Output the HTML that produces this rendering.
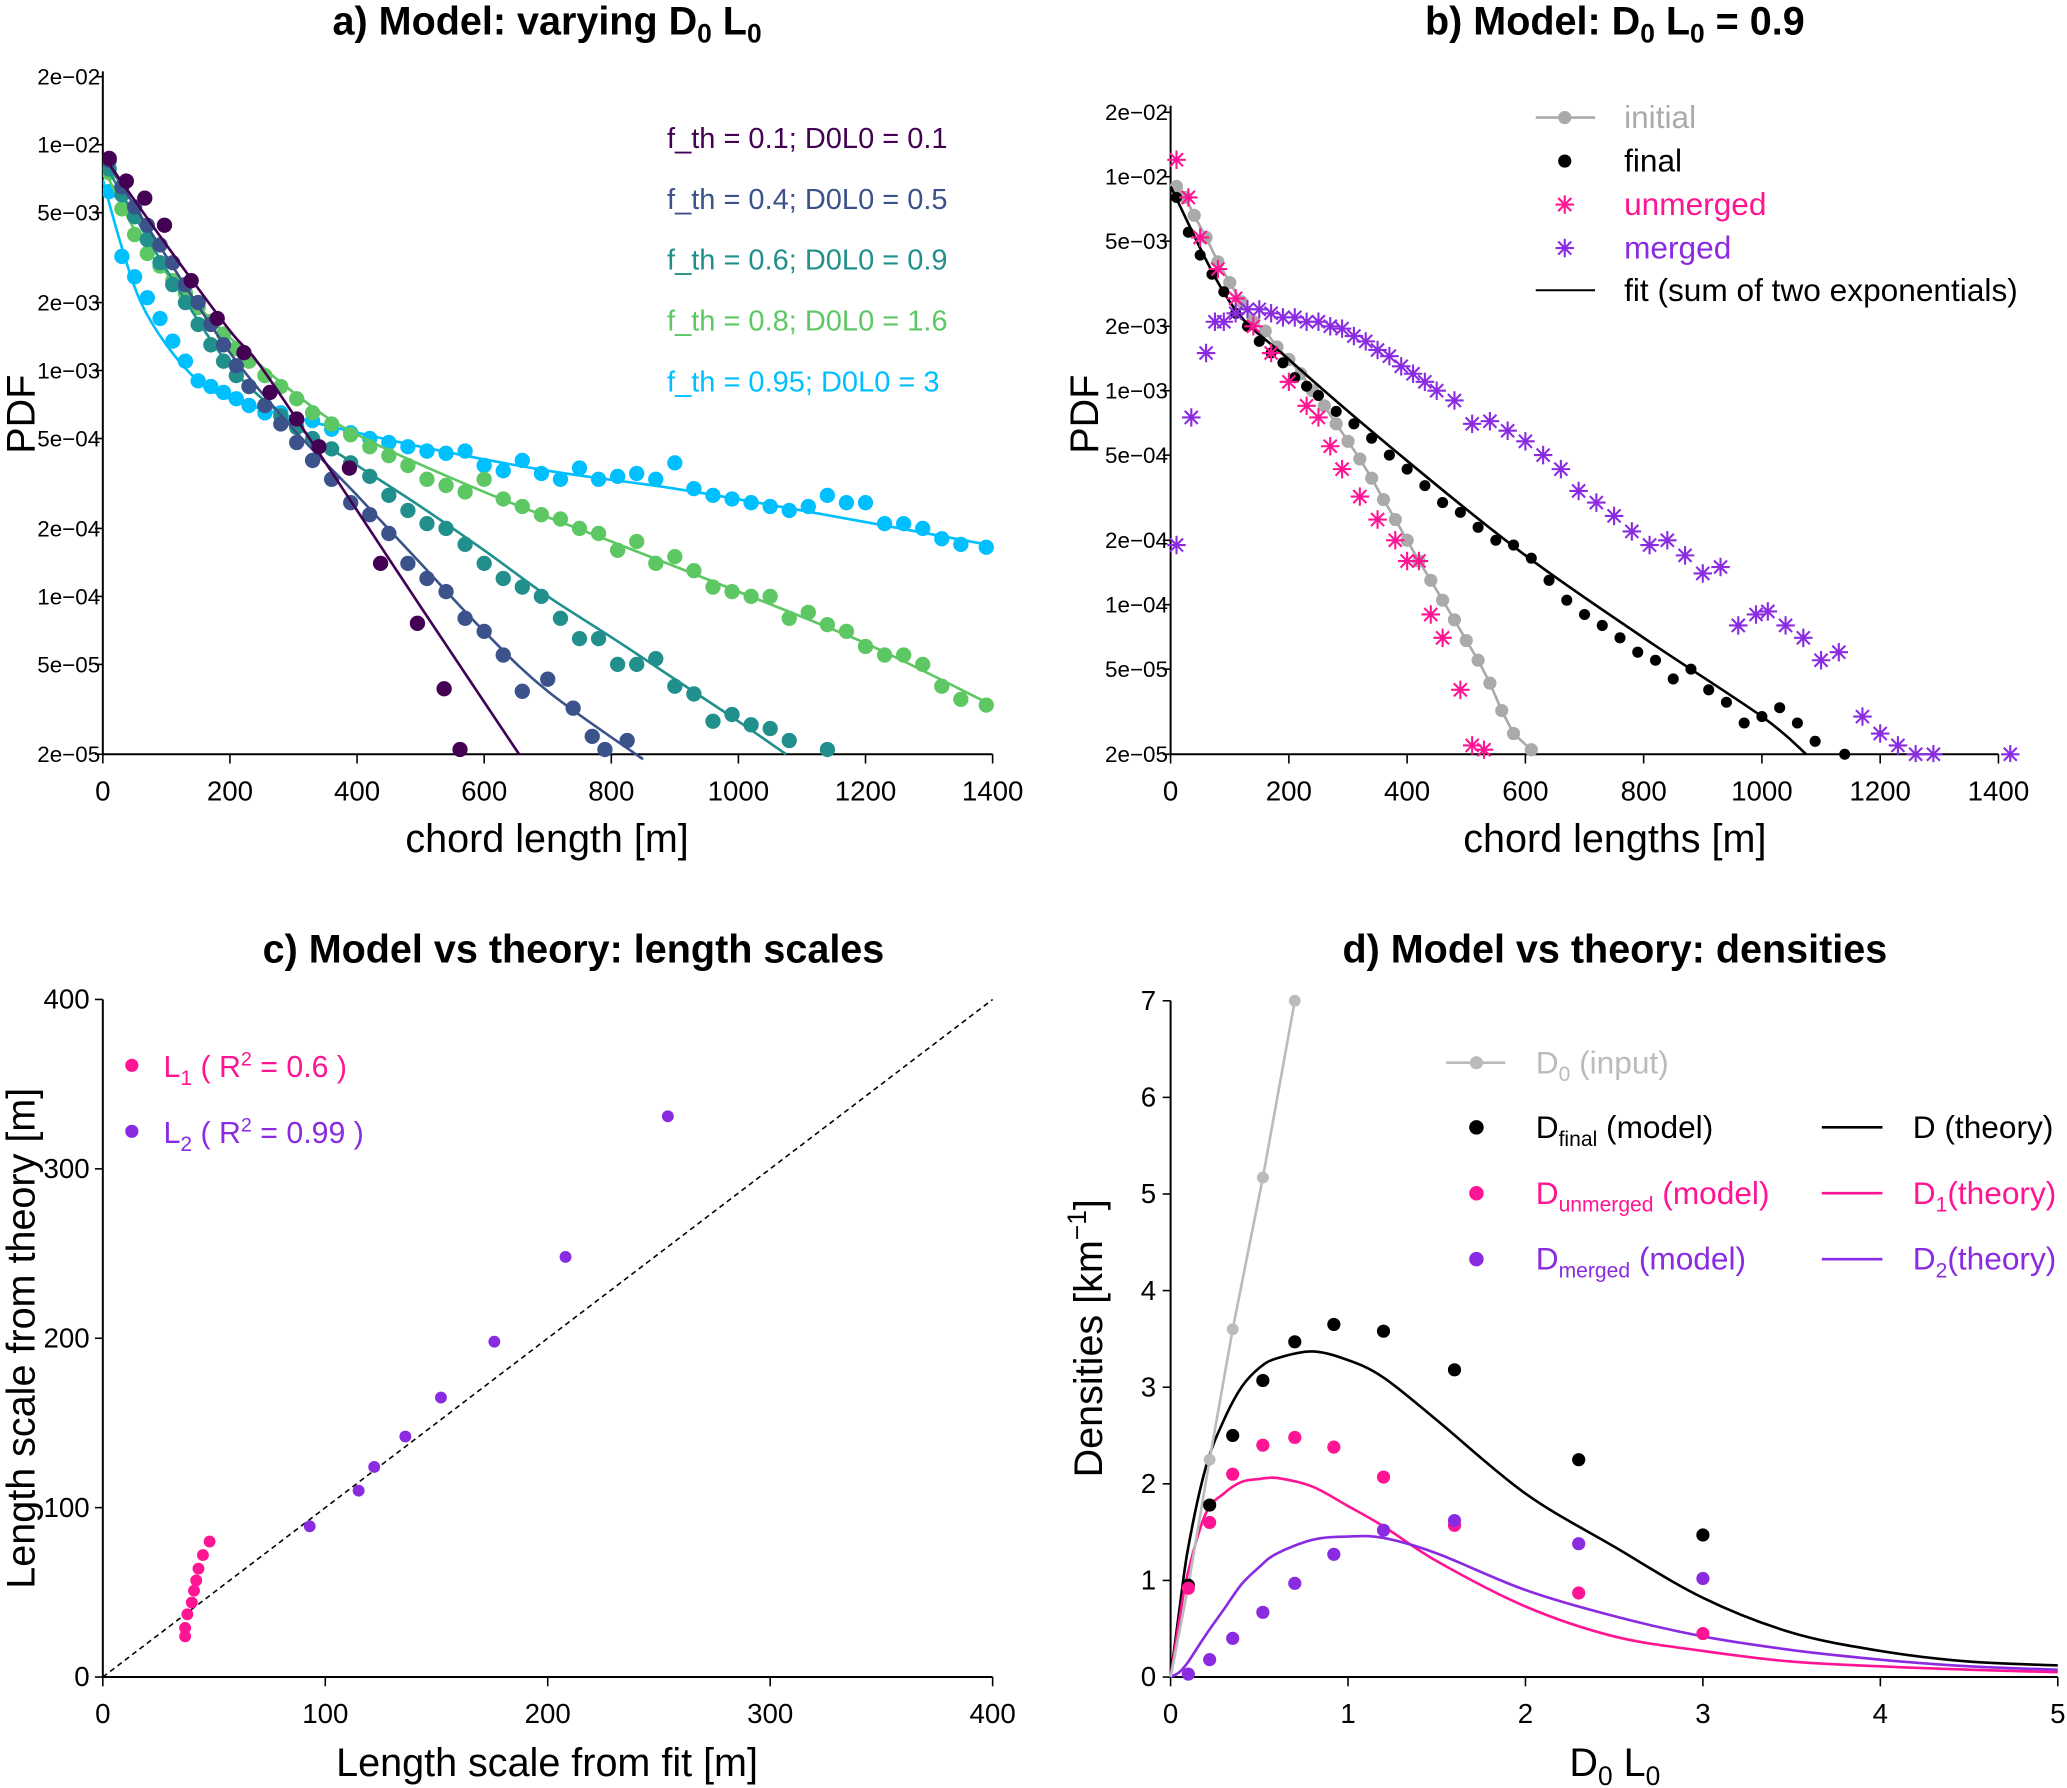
<!DOCTYPE html>
<html><head><meta charset="utf-8"><style>
html,body{margin:0;padding:0;background:#fff}
svg{display:block;font-family:"Liberation Sans",sans-serif}
</style></head><body>
<svg id="fig" width="2067" height="1788" viewBox="0 0 1568 1356" xmlns="http://www.w3.org/2000/svg"></svg>
<script>
// ---------- Panel a data ----------
const aX1=[10,37,66,97,139,180,222,263,305,340,388,437,495,537,562];
const aV1=[8.7e-3,6.9e-3,5.8e-3,4.4e-3,2.5e-3,1.7e-3,1.2e-3,8e-4,6.1e-4,4.6e-4,3.7e-4,1.4e-4,7.6e-5,3.9e-5,2.1e-5];
const aFx1=[0,100,200,253,400,500,655];
const aFv1=[9e-3,3.6e-3,1.5e-3,1e-3,2.4e-4,9e-5,2e-5];
const aX2=[10,30,50,70,90,110,130,150,170,190,210,230,255,280,305,330,360,390,420,450,480,510,540,570,600,630,660,700,740,770,790,825];
const aV2=[8.5e-3,6.5e-3,5.3e-3,4.4e-3,3.6e-3,3e-3,2.4e-3,2e-3,1.6e-3,1.3e-3,1.05e-3,8.5e-4,7e-4,5.8e-4,4.8e-4,4e-4,3.3e-4,2.6e-4,2.3e-4,1.9e-4,1.4e-4,1.2e-4,1.05e-4,8e-5,7e-5,5.5e-5,3.8e-5,4.3e-5,3.2e-5,2.4e-5,2.1e-5,2.3e-5];
const aFx2=[0,100,200,300,400,500,600,700,850];
const aFv2=[9e-3,3.2e-3,1.2e-3,5.5e-4,2.8e-4,1.4e-4,7e-5,3.8e-5,1.9e-5];
const aX3=[10,30,50,70,90,110,130,150,170,190,210,230,255,280,305,330,360,390,420,450,480,510,540,570,600,630,660,690,720,750,780,810,840,870,900,930,960,990,1020,1050,1080,1140];
const aV3=[7.8e-3,6e-3,4.8e-3,3.8e-3,3e-3,2.4e-3,2e-3,1.6e-3,1.3e-3,1.1e-3,9.5e-4,8.5e-4,7e-4,6.3e-4,5.6e-4,5e-4,4.5e-4,3.9e-4,3.4e-4,2.8e-4,2.4e-4,2.1e-4,2e-4,1.7e-4,1.4e-4,1.2e-4,1.1e-4,1e-4,8e-5,6.5e-5,6.5e-5,5e-5,5e-5,5.3e-5,4e-5,3.7e-5,2.8e-5,3e-5,2.7e-5,2.6e-5,2.3e-5,2.1e-5];
const aFx3=[0,100,200,300,400,500,600,700,800,900,1000,1075];
const aFv3=[8.5e-3,2.8e-3,1.05e-3,5.8e-4,3.8e-4,2.5e-4,1.6e-4,1e-4,6.6e-5,4.3e-5,2.8e-5,2e-5];
const aX4=[10,30,50,70,90,110,130,150,170,190,210,230,255,280,305,330,360,390,420,450,480,510,540,570,600,630,660,690,720,750,780,810,840,870,900,930,960,990,1020,1050,1080,1110,1140,1170,1200,1230,1260,1290,1320,1350,1390];
const aV4=[7.5e-3,5.2e-3,4e-3,3.3e-3,2.9e-3,2.5e-3,2.2e-3,1.9e-3,1.65e-3,1.45e-3,1.25e-3,1.1e-3,9.5e-4,8.5e-4,7.5e-4,6.5e-4,5.8e-4,5.2e-4,4.6e-4,4.2e-4,3.8e-4,3.3e-4,3.1e-4,2.9e-4,3.3e-4,2.7e-4,2.5e-4,2.3e-4,2.2e-4,2e-4,1.9e-4,1.6e-4,1.75e-4,1.4e-4,1.5e-4,1.3e-4,1.1e-4,1.05e-4,1e-4,1e-4,8e-5,8.5e-5,7.5e-5,7e-5,6e-5,5.5e-5,5.5e-5,5e-5,4e-5,3.5e-5,3.3e-5];
const aFx4=[0,50,100,200,300,400,600,800,1000,1200,1390];
const aFv4=[8e-3,4.2e-3,2.7e-3,1.4e-3,8e-4,5.2e-4,2.9e-4,1.75e-4,1.05e-4,6.2e-5,3.4e-5];
const aX5=aX4;
const aV5=[6.2e-3,3.2e-3,2.6e-3,2.1e-3,1.7e-3,1.35e-3,1.1e-3,9e-4,8.5e-4,8e-4,7.5e-4,7e-4,6.5e-4,6.5e-4,6e-4,6e-4,5.5e-4,5.3e-4,5e-4,4.8e-4,4.6e-4,4.4e-4,4.3e-4,4.4e-4,3.8e-4,3.6e-4,4e-4,3.5e-4,3.3e-4,3.7e-4,3.3e-4,3.4e-4,3.5e-4,3.3e-4,3.9e-4,3e-4,2.8e-4,2.7e-4,2.6e-4,2.5e-4,2.4e-4,2.5e-4,2.8e-4,2.6e-4,2.6e-4,2.1e-4,2.1e-4,2e-4,1.8e-4,1.7e-4,1.65e-4];
const aFx5=[0,30,60,100,150,200,300,500,700,900,1100,1390];
const aFv5=[7e-3,3.5e-3,2e-3,1.3e-3,9e-4,7.5e-4,6.2e-4,4.6e-4,3.6e-4,3e-4,2.4e-4,1.7e-4];
const aLabels=["f_th = 0.1; D0L0 = 0.1","f_th = 0.4; D0L0 = 0.5","f_th = 0.6; D0L0 = 0.9","f_th = 0.8; D0L0 = 1.6","f_th = 0.95; D0L0 = 3"];
const logTicks=[2e-2,1e-2,5e-3,2e-3,1e-3,5e-4,2e-4,1e-4,5e-5,2e-5];
const logTickLabels=["2e\u221202","1e\u221202","5e\u221203","2e\u221203","1e\u221203","5e\u221204","2e\u221204","1e\u221204","5e\u221205","2e\u221205"];
const xTicksAB=[0,200,400,600,800,1000,1200,1400];
// ---------- Panel b data ----------
const bXi=[10,25,40,60,80,100,120,140,160,180,200,220,240,260,280,300,320,340,360,380,400,420,440,460,480,500,520,540,560,580,610];
const bVi=[9e-3,8e-3,6.6e-3,5.2e-3,4e-3,3.2e-3,2.6e-3,2.1e-3,1.9e-3,1.6e-3,1.4e-3,1.2e-3,1e-3,8.5e-4,7e-4,5.8e-4,4.8e-4,3.9e-4,3.1e-4,2.5e-4,2e-4,1.6e-4,1.3e-4,1.05e-4,8.5e-5,6.8e-5,5.5e-5,4.3e-5,3.2e-5,2.5e-5,2.1e-5];
const bXf=[10,30,50,70,90,110,130,150,170,190,210,230,250,280,310,340,370,400,430,460,490,520,550,580,610,640,670,700,730,760,790,820,850,880,910,940,970,1000,1030,1060,1090,1140];
const bVf=[8e-3,5.5e-3,4.3e-3,3.5e-3,2.9e-3,2.3e-3,2e-3,1.7e-3,1.5e-3,1.35e-3,1.15e-3,1.05e-3,9.5e-4,8e-4,7e-4,6e-4,5e-4,4.3e-4,3.6e-4,3e-4,2.7e-4,2.3e-4,2e-4,1.9e-4,1.65e-4,1.3e-4,1.05e-4,9e-5,8e-5,7e-5,6e-5,5.5e-5,4.5e-5,5e-5,4e-5,3.5e-5,2.8e-5,3e-5,3.3e-5,2.8e-5,2.3e-5,2e-5];
const bFitX=[0,100,200,400,600,800,1000,1075];
const bFitV=[9e-3,2.6e-3,1.4e-3,4.7e-4,1.7e-4,7e-5,3e-5,2e-5];
const bXu=[10,30,50,80,110,140,170,200,230,250,270,290,320,350,380,400,420,440,460,490,510,530];
const bVu=[1.2e-2,8e-3,5.2e-3,3.7e-3,2.7e-3,2e-3,1.5e-3,1.1e-3,8.5e-4,7.5e-4,5.5e-4,4.3e-4,3.2e-4,2.5e-4,2e-4,1.6e-4,1.6e-4,9e-5,7e-5,4e-5,2.2e-5,2.1e-5];
const bXm=[10,35,60,75,90,110,130,150,170,190,210,230,250,270,290,310,330,350,370,390,410,430,450,480,510,540,570,600,630,660,690,720,750,780,810,840,870,900,930,960,990,1010,1040,1070,1100,1130,1170,1200,1230,1260,1290,1420];
const bVm=[1.9e-4,7.5e-4,1.5e-3,2.1e-3,2.1e-3,2.3e-3,2.4e-3,2.4e-3,2.3e-3,2.2e-3,2.2e-3,2.1e-3,2.1e-3,2e-3,1.95e-3,1.8e-3,1.7e-3,1.55e-3,1.45e-3,1.3e-3,1.2e-3,1.1e-3,1e-3,9e-4,7e-4,7.2e-4,6.5e-4,5.8e-4,5e-4,4.3e-4,3.4e-4,3e-4,2.6e-4,2.2e-4,1.9e-4,2e-4,1.7e-4,1.4e-4,1.5e-4,8e-5,9e-5,9.3e-5,8e-5,7e-5,5.5e-5,6e-5,3e-5,2.5e-5,2.2e-5,2e-5,2e-5,2e-5];
// ---------- Panel c data ----------
const cX1=[37,37,38,40,41,42,43,45,48];
const cY1=[24,29,37,44,51,57,64,72,80];
const cX2=[93,115,122,136,152,176,208,254];
const cY2=[89,110,124,142,165,198,248,331];
const cTicks=[0,100,200,300,400];
// ---------- Panel d data ----------
const dX0=[0.1,0.22,0.35,0.52,0.7];
const dY0=[0.95,2.25,3.6,5.17,7.0];
const dXm=[0.1,0.22,0.35,0.52,0.7,0.92,1.2,1.6,2.3,3];
const dYfinal=[0.95,1.78,2.5,3.07,3.47,3.65,3.58,3.18,2.25,1.47];
const dYunm=[0.92,1.6,2.1,2.4,2.48,2.38,2.07,1.57,0.87,0.45];
const dYmer=[0.03,0.18,0.4,0.67,0.97,1.27,1.52,1.62,1.38,1.02];
const dTx=[0,0.05,0.1,0.2,0.3,0.4,0.5,0.6,0.8,1,1.2,1.5,2,2.5,3,3.5,4,4.5,5];
const dTD=[0,0.7,1.35,2.18,2.66,3.0,3.2,3.3,3.37,3.28,3.1,2.66,1.9,1.35,0.82,0.46,0.27,0.16,0.12];
const dTD1=[0,0.6,1.1,1.7,1.9,2.02,2.05,2.06,1.97,1.77,1.56,1.2,0.73,0.42,0.27,0.16,0.11,0.076,0.05];
const dTD2=[0,0.05,0.16,0.44,0.7,0.96,1.14,1.28,1.42,1.455,1.44,1.28,0.9,0.63,0.42,0.28,0.18,0.11,0.076];
const dXTicks=[0,1,2,3,4,5];
const dYTicks=[0,1,2,3,4,5,6,7];

const NS="http://www.w3.org/2000/svg";
const svg=document.getElementById('fig');
function el(tag,attrs,parent){const e=document.createElementNS(NS,tag);for(const k in attrs)e.setAttribute(k,attrs[k]);(parent||svg).appendChild(e);return e;}
function txt(s,attrs,parent){const e=el('text',attrs,parent);e.textContent=s;return e;}
function lin(d0,d1,r0,r1){return v=>r0+(v-d0)/(d1-d0)*(r1-r0);}
function logs(d0,d1,r0,r1){return v=>r0+(Math.log10(v)-Math.log10(d0))/(Math.log10(d1)-Math.log10(d0))*(r1-r0);}
function poly(xs,ys,fx,fy,color,w,g){const p=xs.map((x,i)=>fx(x).toFixed(1)+','+fy(ys[i]).toFixed(1)).join(' ');return el('polyline',{points:p,fill:'none',stroke:color,'stroke-width':w},g);}
function smooth(xs,ys,fx,fy,color,w,g){const P=xs.map((x,i)=>[fx(x),fy(ys[i])]);let d='M'+P[0][0].toFixed(1)+','+P[0][1].toFixed(1);
 for(let i=0;i<P.length-1;i++){const p0=P[Math.max(0,i-1)],p1=P[i],p2=P[i+1],p3=P[Math.min(P.length-1,i+2)];
  const c1=[p1[0]+(p2[0]-p0[0])/6,p1[1]+(p2[1]-p0[1])/6],c2=[p2[0]-(p3[0]-p1[0])/6,p2[1]-(p3[1]-p1[1])/6];
  d+=' C'+c1.map(v=>v.toFixed(1)).join(',')+' '+c2.map(v=>v.toFixed(1)).join(',')+' '+p2[0].toFixed(1)+','+p2[1].toFixed(1);}
 return el('path',{d:d,fill:'none',stroke:color,'stroke-width':w},g);}
function star(cx,cy,r,color,g){const e=el('g',{stroke:color,'stroke-width':1.6},g);for(const a of [0,45,90,135]){const t=a*Math.PI/180;el('line',{x1:cx-r*Math.cos(t),y1:cy-r*Math.sin(t),x2:cx+r*Math.cos(t),y2:cy+r*Math.sin(t)},e);}return e;}

const defs=el('defs',{});
const ca=el('clipPath',{id:'clipA'},defs);el('rect',{x:78,y:50,width:690,height:528},ca);
const cb=el('clipPath',{id:'clipB'},defs);el('rect',{x:883,y:75,width:650,height:503},cb);

// ===== Panel A =====
const gA=el('g',{});
const ax=lin(0,1400,78,753), ay=logs(2e-5,2e-2,572,58);
const tA=txt('',{x:415,y:26,'font-size':30,'font-weight':'bold','text-anchor':'middle'},gA);
tA.innerHTML='a) Model: varying D<tspan dy="6" font-size="20">0</tspan><tspan dy="-6"> L</tspan><tspan dy="6" font-size="20">0</tspan>';

el('line',{x1:78,y1:54,x2:78,y2:572,stroke:'#000','stroke-width':1.5},gA);
el('line',{x1:78,y1:572,x2:753,y2:572,stroke:'#000','stroke-width':1.5},gA);
logTicks.forEach((t,i)=>{const y=ay(t);el('line',{x1:72,y1:y,x2:78,y2:y,stroke:'#000','stroke-width':1.2},gA);
 const l=txt(logTickLabels[i],{x:76,y:y+6,'font-size':17,'text-anchor':'end'},gA);});
xTicksAB.forEach(t=>{const x=ax(t);el('line',{x1:x,y1:572,x2:x,y2:579,stroke:'#000','stroke-width':1.2},gA);
 txt(String(t),{x:x,y:607,'font-size':21,'text-anchor':'middle'},gA);});
txt('chord length [m]',{x:415,y:646,'font-size':30,'text-anchor':'middle'},gA);
txt('PDF',{x:0,y:0,'font-size':30,'text-anchor':'middle',transform:'translate(26,314) rotate(-90)'},gA);
const aCols=['#440154','#3b528b','#21908d','#5dc863','#00bfff'];
const aSeries=[[aX1,aV1,aFx1,aFv1],[aX2,aV2,aFx2,aFv2],[aX3,aV3,aFx3,aFv3],[aX4,aV4,aFx4,aFv4],[aX5,aV5,aFx5,aFv5]];
for(let s=4;s>=0;s--){const [xs,vs,fx,fv]=aSeries[s];const c=aCols[s];
 const g=el('g',{'clip-path':'url(#clipA)'},gA);
 
 
 smooth(fx,fv,ax,ay,c,2,g);
 xs.forEach((x,i)=>{const d=el('circle',{cx:ax(x),cy:ay(vs[i]),r:5.8,fill:c},g);});
}
aLabels.forEach((l,i)=>{const t=txt(l,{x:506,y:112+i*46.2,'font-size':22,fill:aCols[i]},gA);});

// ===== Panel B =====
const gB=el('g',{});
const bx=lin(0,1400,888,1516), by=logs(2e-5,2e-2,572,85);
const tB=txt('',{x:1225,y:26,'font-size':30,'font-weight':'bold','text-anchor':'middle'},gB);
tB.innerHTML='b) Model: D<tspan dy="6" font-size="20">0</tspan><tspan dy="-6"> L</tspan><tspan dy="6" font-size="20">0</tspan><tspan dy="-6"> = 0.9</tspan>';

el('line',{x1:888,y1:80,x2:888,y2:572,stroke:'#000','stroke-width':1.5},gB);
el('line',{x1:888,y1:572,x2:1516,y2:572,stroke:'#000','stroke-width':1.5},gB);
logTicks.forEach((t,i)=>{const y=by(t);el('line',{x1:882,y1:y,x2:888,y2:y,stroke:'#000','stroke-width':1.2},gB);
 txt(logTickLabels[i],{x:886,y:y+6,'font-size':17,'text-anchor':'end'},gB);});
xTicksAB.forEach(t=>{const x=bx(t);el('line',{x1:x,y1:572,x2:x,y2:579,stroke:'#000','stroke-width':1.2},gB);
 txt(String(t),{x:x,y:607,'font-size':21,'text-anchor':'middle'},gB);});
txt('chord lengths [m]',{x:1225,y:646,'font-size':30,'text-anchor':'middle'},gB);
txt('PDF',{x:0,y:0,'font-size':30,'text-anchor':'middle',transform:'translate(833,314) rotate(-90)'},gB);
const gbi=el('g',{'clip-path':'url(#clipB)'},gB);

poly(bXi,bVi,bx,by,'#aaaaaa',2,gbi);
bXi.forEach((x,i)=>el('circle',{cx:bx(x),cy:by(bVi[i]),r:5,fill:'#aaaaaa'},gbi));
const gbf=el('g',{'clip-path':'url(#clipB)'},gB);

smooth(bFitX,bFitV,bx,by,'#000',2,gbf);
bXf.forEach((x,i)=>el('circle',{cx:bx(x),cy:by(bVf[i]),r:4.2,fill:'#000'},gbf));
const gbu=el('g',{'clip-path':'url(#clipB)'},gB);

bXu.forEach((x,i)=>star(bx(x),by(bVu[i]),7,'#ff1493',gbu));
const gbm=el('g',{'clip-path':'url(#clipB)'},gB);

bXm.forEach((x,i)=>star(bx(x),by(bVm[i]),7,'#8a2be2',gbm));
const lgB=el('g',{},gB);
el('line',{x1:1165,y1:89,x2:1210,y2:89,stroke:'#aaaaaa','stroke-width':2},lgB);el('circle',{cx:1187,cy:89,r:5,fill:'#aaaaaa'},lgB);
txt('initial',{x:1232,y:97,'font-size':24,fill:'#aaaaaa'},lgB);
el('circle',{cx:1187,cy:122,r:5,fill:'#000'},lgB);txt('final',{x:1232,y:130,'font-size':24},lgB);
star(1187,155,7,'#ff1493',lgB);txt('unmerged',{x:1232,y:163,'font-size':24,fill:'#ff1493'},lgB);
star(1187,188,7,'#8a2be2',lgB);txt('merged',{x:1232,y:196,'font-size':24,fill:'#8a2be2'},lgB);
el('line',{x1:1165,y1:220,x2:1210,y2:220,stroke:'#000','stroke-width':1.5},lgB);txt('fit (sum of two exponentials)',{x:1232,y:228,'font-size':24},lgB);

// ===== Panel C =====
const gC=el('g',{});
const cx=lin(0,400,78,753), cy=lin(0,400,1272,758);
txt('c) Model vs theory: length scales',{x:435,y:730,'font-size':30,'font-weight':'bold','text-anchor':'middle'},gC);
el('line',{x1:78,y1:758,x2:78,y2:1272,stroke:'#000','stroke-width':1.5},gC);
el('line',{x1:78,y1:1272,x2:753,y2:1272,stroke:'#000','stroke-width':1.5},gC);
cTicks.forEach(t=>{el('line',{x1:72,y1:cy(t),x2:78,y2:cy(t),stroke:'#000','stroke-width':1.2},gC);
 txt(String(t),{x:68,y:cy(t)+7,'font-size':21,'text-anchor':'end'},gC);
 el('line',{x1:cx(t),y1:1272,x2:cx(t),y2:1279,stroke:'#000','stroke-width':1.2},gC);
 txt(String(t),{x:cx(t),y:1307,'font-size':21,'text-anchor':'middle'},gC);});
el('line',{x1:cx(0),y1:cy(0),x2:cx(400),y2:cy(400),stroke:'#000','stroke-width':1.2,'stroke-dasharray':'4,3'},gC);
txt('Length scale from fit [m]',{x:415,y:1347,'font-size':30,'text-anchor':'middle'},gC);
txt('Length scale from theory [m]',{x:0,y:0,'font-size':30,'text-anchor':'middle',transform:'translate(26,1015) rotate(-90)'},gC);
cX1.forEach((x,i)=>el('circle',{cx:cx(x),cy:cy(cY1[i]),r:4.5,fill:'#ff1493'},gC));
cX2.forEach((x,i)=>el('circle',{cx:cx(x),cy:cy(cY2[i]),r:4.5,fill:'#8a2be2'},gC));
el('circle',{cx:100,cy:808,r:5,fill:'#ff1493'},gC);
const l1=txt('',{x:124,y:817,'font-size':23,fill:'#ff1493'},gC);l1.innerHTML='L<tspan dy="6" font-size="16">1</tspan><tspan dy="-6">  ( R</tspan><tspan dy="-9" font-size="15">2</tspan><tspan dy="9"> = 0.6 )</tspan>';
el('circle',{cx:100,cy:858,r:5,fill:'#8a2be2'},gC);
const l2=txt('',{x:124,y:867,'font-size':23,fill:'#8a2be2'},gC);l2.innerHTML='L<tspan dy="6" font-size="16">2</tspan><tspan dy="-6">  ( R</tspan><tspan dy="-9" font-size="15">2</tspan><tspan dy="9"> = 0.99 )</tspan>';

// ===== Panel D =====
const gD=el('g',{});
const dx=lin(0,5,888,1561), dy=lin(0,7,1272,759);
txt('d) Model vs theory: densities',{x:1225,y:730,'font-size':30,'font-weight':'bold','text-anchor':'middle'},gD);
el('line',{x1:888,y1:759,x2:888,y2:1272,stroke:'#000','stroke-width':1.5},gD);
el('line',{x1:888,y1:1272,x2:1561,y2:1272,stroke:'#000','stroke-width':1.5},gD);
dYTicks.forEach(t=>{el('line',{x1:882,y1:dy(t),x2:888,y2:dy(t),stroke:'#000','stroke-width':1.2},gD);
 txt(String(t),{x:877,y:dy(t)+7,'font-size':21,'text-anchor':'end'},gD);});
dXTicks.forEach(t=>{el('line',{x1:dx(t),y1:1272,x2:dx(t),y2:1279,stroke:'#000','stroke-width':1.2},gD);
 txt(String(t),{x:dx(t),y:1307,'font-size':21,'text-anchor':'middle'},gD);});
const xtd=txt('',{x:1225,y:1347,'font-size':30,'text-anchor':'middle'},gD);xtd.innerHTML='D<tspan dy="7" font-size="20">0</tspan><tspan dy="-7"> L</tspan><tspan dy="7" font-size="20">0</tspan>';

const ytd=txt('',{x:0,y:0,'font-size':30,'text-anchor':'middle',transform:'translate(836,1015) rotate(-90)'},gD);ytd.innerHTML='Densities [km<tspan dy="-12" font-size="20">\u22121</tspan><tspan dy="12">]</tspan>';

smooth(dTx,dTD,dx,dy,'#000',2,gD);
smooth(dTx,dTD1,dx,dy,'#ff1493',2,gD);
smooth(dTx,dTD2,dx,dy,'#8a2be2',2,gD);
poly([0].concat(dX0),[0].concat(dY0),dx,dy,'#bbbbbb',2,gD);
dX0.forEach((x,i)=>el('circle',{cx:dx(x),cy:dy(dY0[i]),r:4.5,fill:'#bbbbbb'},gD));
dXm.forEach((x,i)=>{el('circle',{cx:dx(x),cy:dy(dYfinal[i]),r:5,fill:'#000'},gD);
 el('circle',{cx:dx(x),cy:dy(dYunm[i]),r:5,fill:'#ff1493'},gD);
 el('circle',{cx:dx(x),cy:dy(dYmer[i]),r:5,fill:'#8a2be2'},gD);});
const lgD=el('g',{},gD);
el('line',{x1:1097,y1:806,x2:1142,y2:806,stroke:'#bbbbbb','stroke-width':2},lgD);el('circle',{cx:1120,cy:806,r:5,fill:'#bbbbbb'},lgD);
txt('',{x:1165,y:814,'font-size':24,fill:'#bbbbbb'},lgD).innerHTML='D<tspan dy="6" font-size="16">0</tspan><tspan dy="-6"> (input)</tspan>';
el('circle',{cx:1120,cy:855,r:5.5,fill:'#000'},lgD);
txt('',{x:1165,y:863,'font-size':24},lgD).innerHTML='D<tspan dy="6" font-size="16">final</tspan><tspan dy="-6"> (model)</tspan>';
el('circle',{cx:1120,cy:905,r:5.5,fill:'#ff1493'},lgD);
txt('',{x:1165,y:913,'font-size':24,fill:'#ff1493'},lgD).innerHTML='D<tspan dy="6" font-size="16">unmerged</tspan><tspan dy="-6"> (model)</tspan>';
el('circle',{cx:1120,cy:955,r:5.5,fill:'#8a2be2'},lgD);
txt('',{x:1165,y:963,'font-size':24,fill:'#8a2be2'},lgD).innerHTML='D<tspan dy="6" font-size="16">merged</tspan><tspan dy="-6"> (model)</tspan>';
el('line',{x1:1382,y1:855,x2:1428,y2:855,stroke:'#000','stroke-width':2},lgD);txt('D (theory)',{x:1451,y:863,'font-size':24},lgD);
el('line',{x1:1382,y1:905,x2:1428,y2:905,stroke:'#ff1493','stroke-width':2},lgD);
txt('',{x:1451,y:913,'font-size':24,fill:'#ff1493'},lgD).innerHTML='D<tspan dy="6" font-size="16">1</tspan><tspan dy="-6">(theory)</tspan>';
el('line',{x1:1382,y1:955,x2:1428,y2:955,stroke:'#8a2be2','stroke-width':2},lgD);
txt('',{x:1451,y:963,'font-size':24,fill:'#8a2be2'},lgD).innerHTML='D<tspan dy="6" font-size="16">2</tspan><tspan dy="-6">(theory)</tspan>';
</script>
</body></html>
